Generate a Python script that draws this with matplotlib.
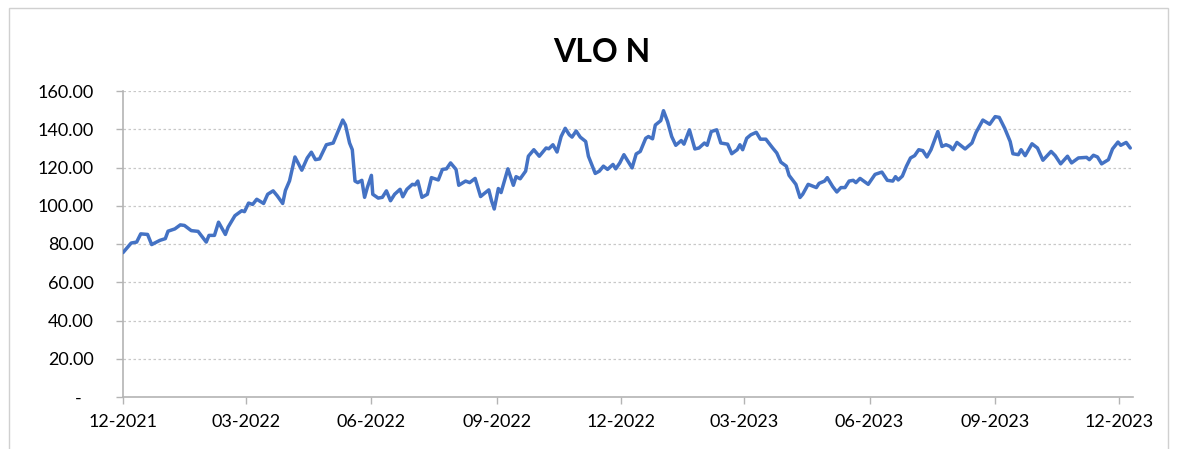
import matplotlib
matplotlib.use("Agg")
import matplotlib.pyplot as plt
import matplotlib.dates as mdates
from matplotlib.patches import Rectangle
from matplotlib.transforms import ScaledTranslation
import pandas as pd

title = "VLO N"

dates = [
    "2021-12-01", "2021-12-07", "2021-12-11", "2021-12-14", "2021-12-19", "2021-12-22", "2021-12-28",
    "2022-01-01", "2022-01-03", "2022-01-08", "2022-01-12", "2022-01-15", "2022-01-20", "2022-01-25",
    "2022-01-31", "2022-02-02", "2022-02-06", "2022-02-09", "2022-02-14", "2022-02-16", "2022-02-21",
    "2022-02-26", "2022-02-28", "2022-03-03", "2022-03-06", "2022-03-09", "2022-03-14", "2022-03-17",
    "2022-03-21", "2022-03-24", "2022-03-28", "2022-03-30", "2022-04-02", "2022-04-06", "2022-04-11",
    "2022-04-15", "2022-04-18", "2022-04-21", "2022-04-24", "2022-04-29", "2022-05-04", "2022-05-07",
    "2022-05-11", "2022-05-13", "2022-05-16", "2022-05-18", "2022-05-20", "2022-05-22", "2022-05-25",
    "2022-05-27", "2022-05-29", "2022-06-01", "2022-06-02", "2022-06-06", "2022-06-09", "2022-06-12",
    "2022-06-15", "2022-06-18", "2022-06-22", "2022-06-24", "2022-06-27", "2022-07-01", "2022-07-03",
    "2022-07-05", "2022-07-08", "2022-07-12", "2022-07-15", "2022-07-20", "2022-07-23", "2022-07-26",
    "2022-07-29", "2022-08-02", "2022-08-04", "2022-08-09", "2022-08-12", "2022-08-16", "2022-08-20",
    "2022-08-22", "2022-08-26", "2022-08-28", "2022-08-30", "2022-09-02", "2022-09-04", "2022-09-09",
    "2022-09-13", "2022-09-15", "2022-09-18", "2022-09-22", "2022-09-24", "2022-09-28", "2022-10-02",
    "2022-10-07", "2022-10-09", "2022-10-12", "2022-10-15", "2022-10-18", "2022-10-21", "2022-10-24",
    "2022-10-26", "2022-10-29", "2022-11-01", "2022-11-05", "2022-11-07", "2022-11-12", "2022-11-15",
    "2022-11-18", "2022-11-21", "2022-11-25", "2022-11-27", "2022-11-30", "2022-12-03", "2022-12-06",
    "2022-12-09", "2022-12-12", "2022-12-15", "2022-12-19", "2022-12-21", "2022-12-24", "2022-12-26",
    "2022-12-30", "2023-01-01", "2023-01-04", "2023-01-07", "2023-01-10", "2023-01-14", "2023-01-16",
    "2023-01-20", "2023-01-24", "2023-01-27", "2023-01-31", "2023-02-02", "2023-02-05", "2023-02-09",
    "2023-02-12", "2023-02-17", "2023-02-20", "2023-02-24", "2023-02-26", "2023-02-28", "2023-03-03",
    "2023-03-06", "2023-03-10", "2023-03-13", "2023-03-17", "2023-03-22", "2023-03-25", "2023-03-28",
    "2023-04-01", "2023-04-03", "2023-04-08", "2023-04-11", "2023-04-13", "2023-04-17", "2023-04-23",
    "2023-04-25", "2023-04-29", "2023-05-01", "2023-05-05", "2023-05-08", "2023-05-11", "2023-05-14",
    "2023-05-17", "2023-05-20", "2023-05-22", "2023-05-25", "2023-05-31", "2023-06-05", "2023-06-10",
    "2023-06-14", "2023-06-18", "2023-06-20", "2023-06-22", "2023-06-25", "2023-06-28", "2023-07-01",
    "2023-07-04", "2023-07-07", "2023-07-10", "2023-07-13", "2023-07-16", "2023-07-21", "2023-07-24",
    "2023-07-27", "2023-07-30", "2023-08-01", "2023-08-04", "2023-08-10", "2023-08-15", "2023-08-18",
    "2023-08-23", "2023-08-28", "2023-09-01", "2023-09-04", "2023-09-08", "2023-09-12", "2023-09-14",
    "2023-09-18", "2023-09-20", "2023-09-23", "2023-09-28", "2023-10-02", "2023-10-06", "2023-10-12",
    "2023-10-15", "2023-10-19", "2023-10-24", "2023-10-27", "2023-11-01", "2023-11-07", "2023-11-09",
    "2023-11-12", "2023-11-15", "2023-11-18", "2023-11-23", "2023-11-26", "2023-11-30", "2023-12-02",
    "2023-12-06", "2023-12-09",
]

values = [
    75.5, 80.5, 81.0, 85.3, 85.0, 79.7, 81.9,
    82.8, 86.7, 87.9, 90.0, 89.7, 87.0, 86.6,
    81.0, 84.5, 84.5, 91.4, 85.0, 88.8, 94.8,
    97.4, 96.9, 101.4, 100.7, 103.4, 101.2, 106.0,
    107.8, 105.2, 101.2, 108.0, 113.0, 125.5, 118.6,
    125.0, 128.0, 124.1, 124.5, 131.9, 132.8, 137.9,
    144.8, 142.2, 132.8, 129.3, 112.9, 112.1, 113.3,
    104.4, 109.5, 115.9, 106.0, 104.0, 104.4, 107.8,
    102.6, 106.0, 108.6, 104.7, 108.6, 111.2, 110.9,
    112.9, 104.4, 106.0, 114.7, 113.5, 119.0, 119.3,
    122.4, 119.0, 110.7, 112.9, 112.1, 114.3, 104.8,
    106.0, 108.3, 102.6, 98.3, 109.0, 106.9, 119.3,
    110.7, 115.2, 114.1, 118.1, 125.9, 129.3, 125.9,
    130.2, 129.8, 131.9, 128.1, 136.2, 140.5, 137.1,
    135.9, 139.1, 135.9, 133.6, 125.9, 116.9, 118.1,
    120.7, 119.0, 121.6, 119.3, 122.4, 126.7, 123.3,
    119.8, 127.1, 128.4, 135.3, 136.2, 135.0, 142.2,
    144.5, 149.7, 144.0, 136.2, 131.6, 134.1, 132.2,
    139.7, 129.7, 130.2, 132.8, 131.6, 138.8, 139.7,
    132.8, 132.2, 127.2, 129.3, 131.9, 129.3, 135.3,
    137.1, 138.4, 134.8, 134.8, 130.2, 127.6, 122.8,
    120.7, 115.9, 111.2, 104.3, 106.0, 111.2, 109.5,
    111.7, 112.9, 114.7, 110.0, 107.2, 109.5, 109.5,
    112.9, 113.3, 112.1, 114.3, 111.2, 116.4, 117.6,
    113.3, 112.9, 115.2, 113.5, 115.5, 120.7, 125.0,
    126.2, 129.3, 128.8, 125.5, 129.3, 138.8, 131.0,
    131.9, 131.0, 129.3, 133.1, 129.7, 132.8, 138.3,
    144.8, 142.6, 146.6, 146.2, 140.5, 133.6, 127.2,
    126.7, 129.3, 126.2, 132.4, 130.2, 123.8, 128.4,
    126.2, 121.9, 125.9, 122.4, 125.0, 125.3, 124.1,
    126.4, 125.5, 121.9, 124.1, 129.7, 133.3, 131.6,
    133.1, 130.2,
]

yticks = [0, 20, 40, 60, 80, 100, 120, 140, 160]
ytick_labels = ["-", "20.00", "40.00", "60.00", "80.00", "100.00", "120.00", "140.00", "160.00"]
xticks = ["2021-12-01", "2022-03-01", "2022-06-01", "2022-09-01", "2022-12-01",
          "2023-03-01", "2023-06-01", "2023-09-01", "2023-12-01"]

plt.rcParams['font.family'] = ['Lato', 'DejaVu Sans']

W, H = 1180, 449
fig = plt.figure(figsize=(W / 100, H / 100), dpi=100)
fig.patches.append(Rectangle((9 / W, -0.05), (1168 - 9) / W, 1.05 - 8 / H + 0.0,
                             transform=fig.transFigure, fill=False,
                             edgecolor="#d0d0d0", linewidth=1.0))

ax = fig.add_axes([123 / W, 1 - 397 / H, (1133 - 123) / W, (397 - 91) / H])

x = pd.to_datetime(dates)
ax.plot(x, values, color="#4472C4", linewidth=2.5, solid_joinstyle="round",
        solid_capstyle="round", zorder=3)

ax.set_ylim(0, 160)
ax.set_xlim(pd.Timestamp("2021-12-01"), pd.Timestamp("2023-12-11"))
ax.set_yticks(yticks)
ax.set_yticklabels(ytick_labels)
ax.set_xticks(pd.to_datetime(xticks))
ax.xaxis.set_major_formatter(mdates.DateFormatter("%m-%Y"))

ax.grid(axis="y", color="#c8c8c8", linestyle=(0, (2, 2)), linewidth=0.9)
ax.set_axisbelow(True)
for s in ["top", "right"]:
    ax.spines[s].set_visible(False)
for s in ["left", "bottom"]:
    ax.spines[s].set_color("#b4b4b4")
    ax.spines[s].set_linewidth(1.2)

ax.tick_params(axis="both", colors="#b4b4b4", labelcolor="black", labelsize=13,
               length=5, width=1.0, direction="out")
ax.tick_params(axis="x", pad=7)
ax.tick_params(axis="y", pad=16)

lbl0 = ax.get_yticklabels()[0]
lbl0.set_transform(lbl0.get_transform() + ScaledTranslation(-12 / 100, 0, fig.dpi_scale_trans))

fig.text(602 / W, 1 - 52 / H, title, ha="center", va="center", fontsize=23,
         fontweight="bold", color="black")

fig.savefig("out.png", dpi=100, facecolor="white")
